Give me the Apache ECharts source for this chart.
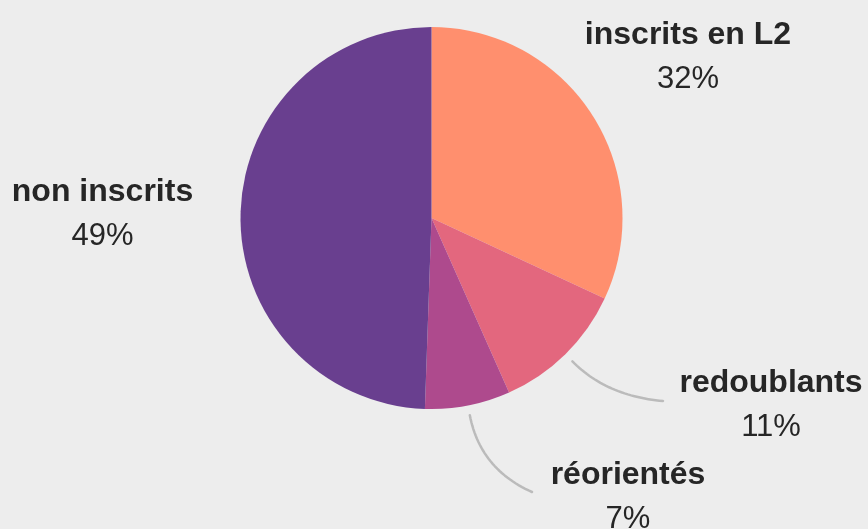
<!DOCTYPE html>
<html>
<head>
<meta charset="utf-8">
<script src="https://cdn.jsdelivr.net/npm/echarts@6/dist/echarts.min.js"></script>
<style>
  html, body { margin: 0; padding: 0; background: #ededed; }
  #chart { width: 868px; height: 529px; }
</style>
</head>
<body>
<div id="chart"></div>
<script>
// ---- data ----
const categories = ['inscrits en L2', 'redoublants', 'réorientés', 'non inscrits'];
const values = [31.9, 11.4, 7.2, 49.4];
const colors = ['#FF8F6E', '#E3677E', '#AE4A8D', '#693F8F'];

// ---- layout / style config ----
const CX = 431.5, CY = 218, R = 191;
// label block centres relative to pie centre
const labelOffsets = [[256.5, -160.5], [339.5, 187.5], [196.5, 279], [-329, -3.5]];
// guide lines: end offset relative to label centre, end tangent angle (deg below horizontal)
const lineSpecs = [null, { end: [-108, -4.5], angle: 5 }, { end: [-96, -5], angle: 24 }, null];

const total = values.reduce((a, b) => a + b, 0);
const mids = [];
let cum = 0;
values.forEach(v => { mids.push(2 * Math.PI * (cum + v / 2) / total); cum += v; });

function intersect(p, d, q, e) {
  const det = d[0] * (-e[1]) - d[1] * (-e[0]);
  const rx = q[0] - p[0], ry = q[1] - p[1];
  const t = (rx * (-e[1]) - ry * (-e[0])) / det;
  return [p[0] + t * d[0], p[1] + t * d[1]];
}
function curve(S, C, E, n) {
  const pts = [];
  for (let j = 0; j <= n; j++) {
    const t = j / n, u = 1 - t;
    pts.push([u * u * S[0] + 2 * u * t * C[0] + t * t * E[0],
              u * u * S[1] + 2 * u * t * C[1] + t * t * E[1]]);
  }
  return pts;
}

const chart = echarts.init(document.getElementById('chart'));
chart.setOption({
  backgroundColor: '#ededed',
  animation: false,
  series: [{
    type: 'pie',
    center: [CX, CY],
    radius: [0, R],
    startAngle: 90,
    clockwise: true,
    avoidLabelOverlap: false,
    data: categories.map((c, i) => ({
      name: c,
      value: values[i],
      itemStyle: { color: colors[i] },
      labelLine: { show: !!lineSpecs[i] }
    })),
    label: {
      show: true,
      position: 'outside',
      formatter: p => '{n|' + p.name + '}\n{p|' + Math.round(p.value) + '%}',
      rich: {
        n: { fontFamily: 'Liberation Sans', fontWeight: 'bold', fontSize: 32, lineHeight: 44, color: '#262626', align: 'center' },
        p: { fontFamily: 'Liberation Sans', fontSize: 31, lineHeight: 44, color: '#262626', align: 'center' }
      }
    },
    labelLine: {
      show: true,
      smooth: false,
      lineStyle: { color: '#bbbbbb', width: 2.5, cap: 'round', join: 'round' }
    },
    labelLayout: function (params) {
      const i = params.dataIndex;
      const lx = CX + labelOffsets[i][0], ly = CY + labelOffsets[i][1];
      const res = { x: lx, y: ly, align: 'center', verticalAlign: 'middle' };
      const spec = lineSpecs[i];
      if (spec) {
        const th = mids[i];
        const dir = [Math.sin(th), -Math.cos(th)];
        const S = [CX + (R + 10) * dir[0], CY + (R + 10) * dir[1]];
        const E = [lx + spec.end[0], ly + spec.end[1]];
        const a = spec.angle * Math.PI / 180;
        const P1 = intersect(S, dir, E, [Math.cos(a), Math.sin(a)]);
        res.labelLinePoints = curve(S, P1, E, 30);
      }
      return res;
    },
    emphasis: { scale: false }
  }]
});
</script>
</body>
</html>
